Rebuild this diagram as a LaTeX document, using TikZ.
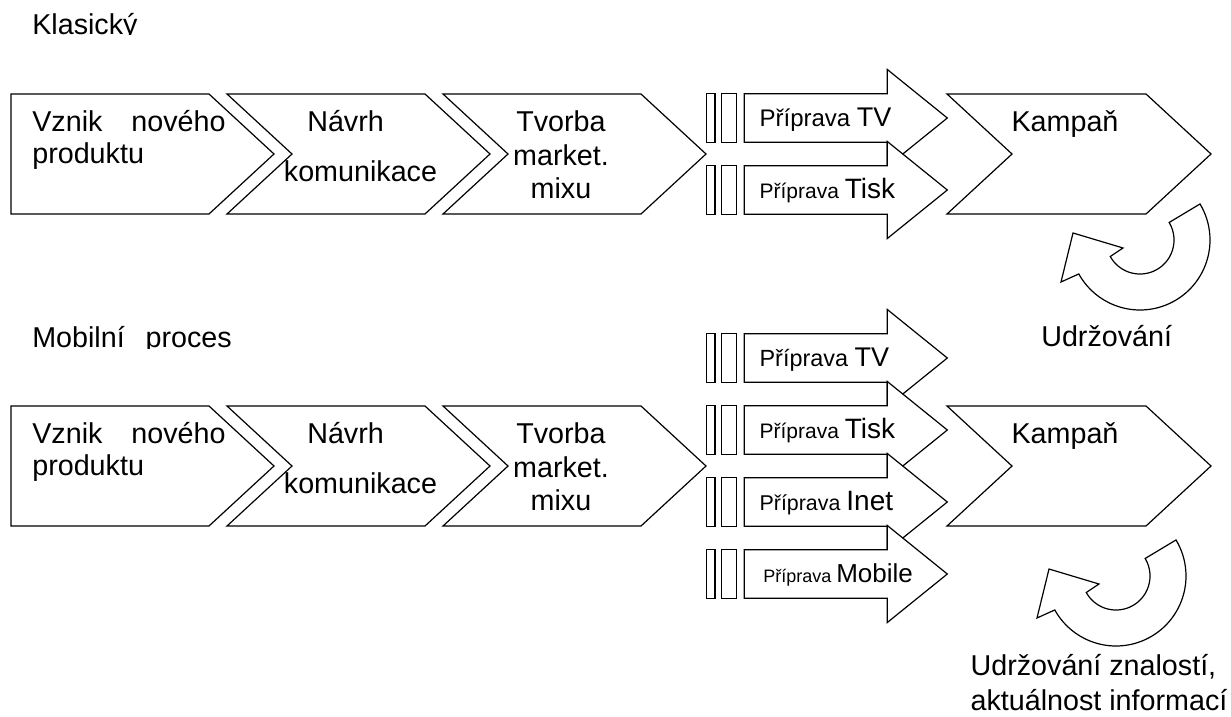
\documentclass[tikz,border=0pt]{standalone}
\usepackage{fontspec}
\setmainfont{Liberation Sans}
\newcommand\fsz[1]{\fontsize{#1}{#1}\selectfont}
% chevron: #1 left x, #2 notch x, #3 shoulder x, #4 tip x, #5 top y
\newcommand\chevronshape[5]{%
  \draw[shp] (#1,#5) -- (#3,#5) -- (#4,{#5+60}) -- (#3,{#5+120})
    -- (#1,{#5+120}) -- (#2,{#5+60}) -- cycle;}
% block arrow with two bars in front: #1 centre y
\newcommand\stripedarrow[1]{%
  \draw[shp] (706.7,{#1-24.2}) rectangle (715,{#1+24.2});
  \draw[shp] (721.7,{#1-24.2}) rectangle (736.7,{#1+24.2});
  \draw[shp] (744.3,{#1-24.2}) -- (887.3,{#1-24.2}) -- (887.3,{#1-48.5})
    -- (947.3,#1) -- (887.3,{#1+48.5}) -- (887.3,{#1+24.2})
    -- (744.3,{#1+24.2}) -- cycle;}
% circular return arrow around the origin of the current scope
\newcommand\roundarrow{%
  \draw[shp] plot[domain=-31:151,samples=70] ({70*cos(\x)},{70*sin(\x)})
    -- (-79,42) -- (-67,-7) -- (-17,8)
    -- plot[domain=151:-31,samples=70] ({34*cos(\x)},{34*sin(\x)}) -- cycle;}
\begin{document}
\begin{tikzpicture}[x=1pt,y=-1pt,line width=1.2pt,line join=miter,
  shp/.style={draw=black,fill=white},
  txt/.style={inner sep=0pt,font=\fsz{28.7}},
  lw/.style={txt,anchor=base west},
  lc/.style={txt,anchor=base}]
\useasboundingbox[fill=white] (0,0) rectangle (1231,717);

% ---------- Klasický ----------
\begin{scope}
  \clip (0,0) rectangle (400,35);
  \node[lw] (t1) at (31.7,34.3) {Klasický};
\end{scope}

\chevronshape{11}{11}{209}{274}{94}
\chevronshape{227}{292}{425}{490}{94}
\chevronshape{443}{508}{641}{706}{94}
\stripedarrow{118}
\stripedarrow{190}
\chevronshape{947}{1012}{1146}{1211}{94}

\node[lw] (a1) at (31.7,131.7) {\makebox[193.3pt][s]{Vznik\hfill nového}};
\node[lw] (a2) at (31.7,163.3) {produktu};
\node[lw] (b1) at (306.7,131.7) {Návrh};
\node[lw] (b2) at (283.3,181.7) {komunikace};
\node[lc] (c1) at (561,131.7) {Tvorba};
\node[lc] (c2) at (561,165) {market.};
\node[lc] (c3) at (561,198.3) {mixu};
\node[lc] (k1) at (1065,131.7) {Kampaň};
\node[lw] (p1) at (759,126) {\fsz{24}Příprava \fsz{27}TV};
\node[lw] (p2) at (759,198) {\fsz{21}Příprava \fsz{28}Tisk};

\begin{scope}[shift={(1140,240)}]
  \roundarrow
\end{scope}
\node[lw] (u1) at (1040.7,346) {Udržování};

% ---------- Mobilní proces ----------
\begin{scope}
  \clip (0,300) rectangle (400,348);
  \node[lw] (t2) at (31.7,347.3) {Mobilní\hspace{20.8pt}proces};
\end{scope}

\chevronshape{11}{11}{209}{274}{406}
\chevronshape{227}{292}{425}{490}{406}
\chevronshape{443}{508}{641}{706}{406}
\stripedarrow{358}
\stripedarrow{430}
\stripedarrow{502}
\stripedarrow{574}
\chevronshape{947}{1012}{1146}{1211}{406}

\node[lw] (d1) at (31.7,443.7) {\makebox[193.3pt][s]{Vznik\hfill nového}};
\node[lw] (d2) at (31.7,475.3) {produktu};
\node[lw] (e1) at (306.7,443.7) {Návrh};
\node[lw] (e2) at (283.3,493.7) {komunikace};
\node[lc] (f1) at (561,443.7) {Tvorba};
\node[lc] (f2) at (561,477) {market.};
\node[lc] (f3) at (561,510.3) {mixu};
\node[lc] (k2) at (1065,443.7) {Kampaň};
\node[lw] (q1) at (759,366) {\fsz{23.4}Příprava \fsz{27}TV};
\node[lw] (q2) at (759,438) {\fsz{21}Příprava \fsz{28}Tisk};
\node[lw] (q3) at (759,510) {\fsz{21.4}Příprava \fsz{28}Inet};
\node[lw] (q4) at (762.7,582) {\fsz{18}Příprava \fsz{26}Mobile};

\begin{scope}[shift={(1116,576)}]
  \roundarrow
\end{scope}
\node[lw] (u2) at (970,675) {Udržování znalostí,};
\node[lw] (u3) at (970,710) {aktuálnost informací};
\end{tikzpicture}
\end{document}
